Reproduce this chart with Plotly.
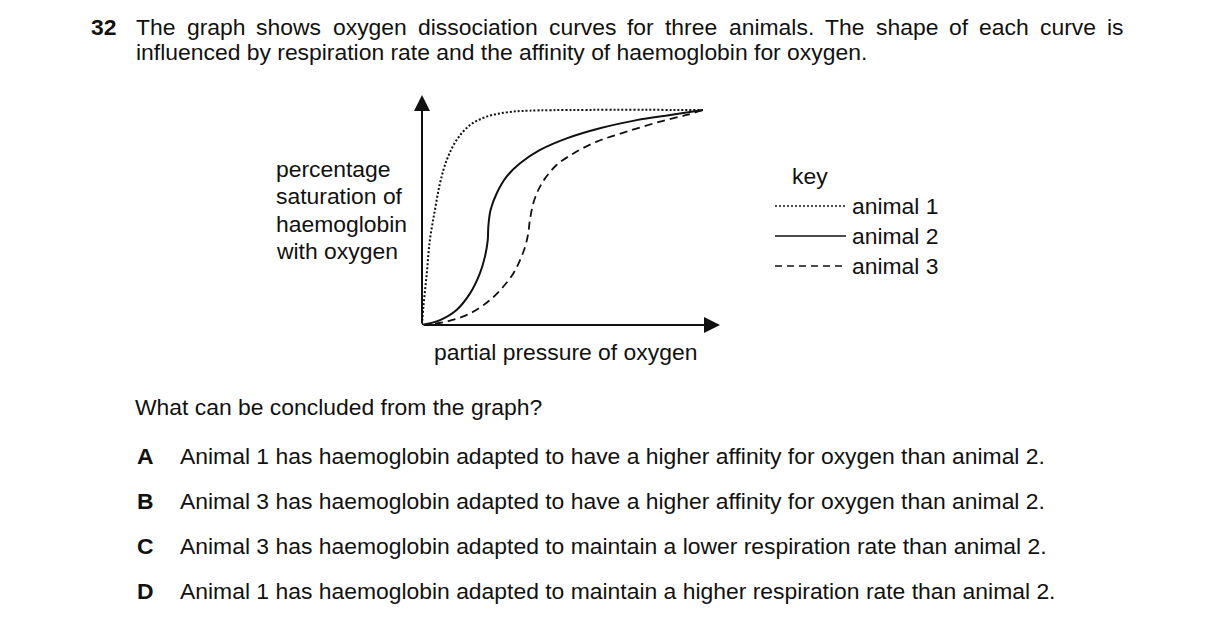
import plotly.graph_objects as go

# curve values (pressure and saturation as % of the drawn range)
pressure_1 = [0, 0.5, 1.7, 2.8, 4.6, 6.4, 8.8, 12.3, 17.1, 23.0, 30.1, 38.4, 100]
saturation_1 = [0, 8.5, 24.0, 39.5, 53.5, 65.9, 76.7, 86.0, 93.0, 96.9, 98.9, 99.7, 100]

pressure_2 = [0, 6.4, 12.3, 17.1, 20.6, 22.4, 23.4, 23.6, 24.4, 26.6, 30.1, 34.9, 42.0,
              51.5, 63.3, 76.4, 88.3, 100]
saturation_2 = [0, 2.3, 7.0, 14.7, 24.0, 31.8, 39.5, 45.7, 53.5, 61.3, 69.0, 75.2, 81.4,
                86.8, 91.5, 95.3, 97.7, 100]

pressure_3 = [0, 8.8, 17.1, 24.2, 28.9, 32.5, 34.9, 36.7, 37.8, 38.4, 39.6, 41.4, 43.8,
              47.9, 53.9, 62.2, 72.8, 84.7, 94.2, 100]
saturation_3 = [0, 1.6, 5.4, 11.6, 17.8, 24.0, 30.2, 36.4, 42.6, 48.8, 56.6, 62.8, 68.2,
                74.4, 79.8, 85.3, 89.9, 94.6, 97.7, 100]

key_labels = ["animal 1", "animal 2", "animal 3"]
y_label_lines = ["percentage", "saturation of", "haemoglobin", "with oxygen"]
x_label = "partial pressure of oxygen"

stem_words = ["The", "graph", "shows", "oxygen", "dissociation", "curves", "for",
              "three", "animals.", "The", "shape", "of", "each", "curve", "is"]
stem_line2 = "influenced by respiration rate and the affinity of haemoglobin for oxygen."
question = "What can be concluded from the graph?"
option_letters = ["A", "B", "C", "D"]
option_texts = [
    "Animal 1 has haemoglobin adapted to have a higher affinity for oxygen than animal 2.",
    "Animal 3 has haemoglobin adapted to have a higher affinity for oxygen than animal 2.",
    "Animal 3 has haemoglobin adapted to maintain a lower respiration rate than animal 2.",
    "Animal 1 has haemoglobin adapted to maintain a higher respiration rate than animal 2.",
]

W, H = 1216, 628
FONT = "Liberation Sans, Arial, sans-serif"
FS = 22.9
INK = "#111111"
PAD = 2  # annotation box padding on left-anchored text


def px(x):
    return x / W


def py(y):
    return 1 - y / H


fig = go.Figure()

line_styles = [
    dict(color=INK, width=2, dash="2px,2px"),
    dict(color=INK, width=2),
    dict(color=INK, width=1.8, dash="8px,5px"),
]
for xs, ys, style, name in zip([pressure_1, pressure_2, pressure_3],
                               [saturation_1, saturation_2, saturation_3],
                               line_styles, key_labels):
    fig.add_trace(go.Scatter(x=xs, y=ys, mode="lines", name=name, line=style,
                             line_shape="spline", showlegend=False, hoverinfo="skip"))

x_max = 100 * 298 / 281
y_max = 100 * 230 / 215

annotations = []

# axes with arrow heads
annotations.append(dict(x=x_max, y=0, ax=0, ay=0, xref="x", yref="y", axref="x", ayref="y",
                        showarrow=True, arrowhead=2, arrowsize=1.6, arrowwidth=2,
                        arrowcolor=INK, standoff=0, text=""))
annotations.append(dict(x=0, y=y_max, ax=0, ay=0, xref="x", yref="y", axref="x", ayref="y",
                        showarrow=True, arrowhead=2, arrowsize=1.6, arrowwidth=2,
                        arrowcolor=INK, standoff=0, text=""))


def txt(x, y, s, anchor="left", bold=False):
    if bold:
        s = "<b>" + s + "</b>"
    if anchor == "left":
        x -= PAD
    annotations.append(dict(x=px(x), y=py(y), xref="paper", yref="paper", text=s,
                            showarrow=False, xanchor=anchor, yanchor="middle",
                            font=dict(family=FONT, size=FS, color=INK)))


# question stem (justified first line)
txt(91, 27, "32", bold=True)
word_x = [136, 186.6, 256.3, 332.5, 417.6, 548.7, 627.4, 665.2, 728.5, 825.1,
          875.6, 949.3, 979.4, 1040.3, 1107.4]
for wx, w in zip(word_x, stem_words):
    txt(wx, 27, w)
txt(136, 52, stem_line2)

# axis labels
for i, line in enumerate(y_label_lines):
    txt(276, 169 + i * 27.3, line)
txt(565, 352, x_label, anchor="center")

# key
txt(810, 176, "key", anchor="center")
key_y = [206, 236, 266]
key_dash = ["2px,2px", "solid", "7px,5px"]
shapes = []
for ky, d, lab in zip(key_y, key_dash, key_labels):
    shapes.append(dict(type="line", xref="paper", yref="paper", x0=px(775), x1=px(846),
                       y0=py(ky), y1=py(ky), line=dict(color=INK, width=1.6, dash=d)))
    txt(852, ky, lab)

# question and options
txt(135, 407, question)
for i, (letter, option) in enumerate(zip(option_letters, option_texts)):
    oy = 456 + i * 45
    txt(137, oy, letter, bold=True)
    txt(180, oy, option)

fig.update_layout(
    width=W, height=H,
    margin=dict(l=0, r=0, t=0, b=0),
    paper_bgcolor="white", plot_bgcolor="white",
    xaxis=dict(domain=[px(422), px(720)], range=[0, x_max], visible=False, fixedrange=True),
    yaxis=dict(domain=[py(325), py(95)], range=[0, y_max], visible=False, fixedrange=True),
    annotations=annotations,
    shapes=shapes,
    showlegend=False,
)

fig.write_html("out.html", config={"displayModeBar": False},
               post_script="document.body.style.margin='0';")
